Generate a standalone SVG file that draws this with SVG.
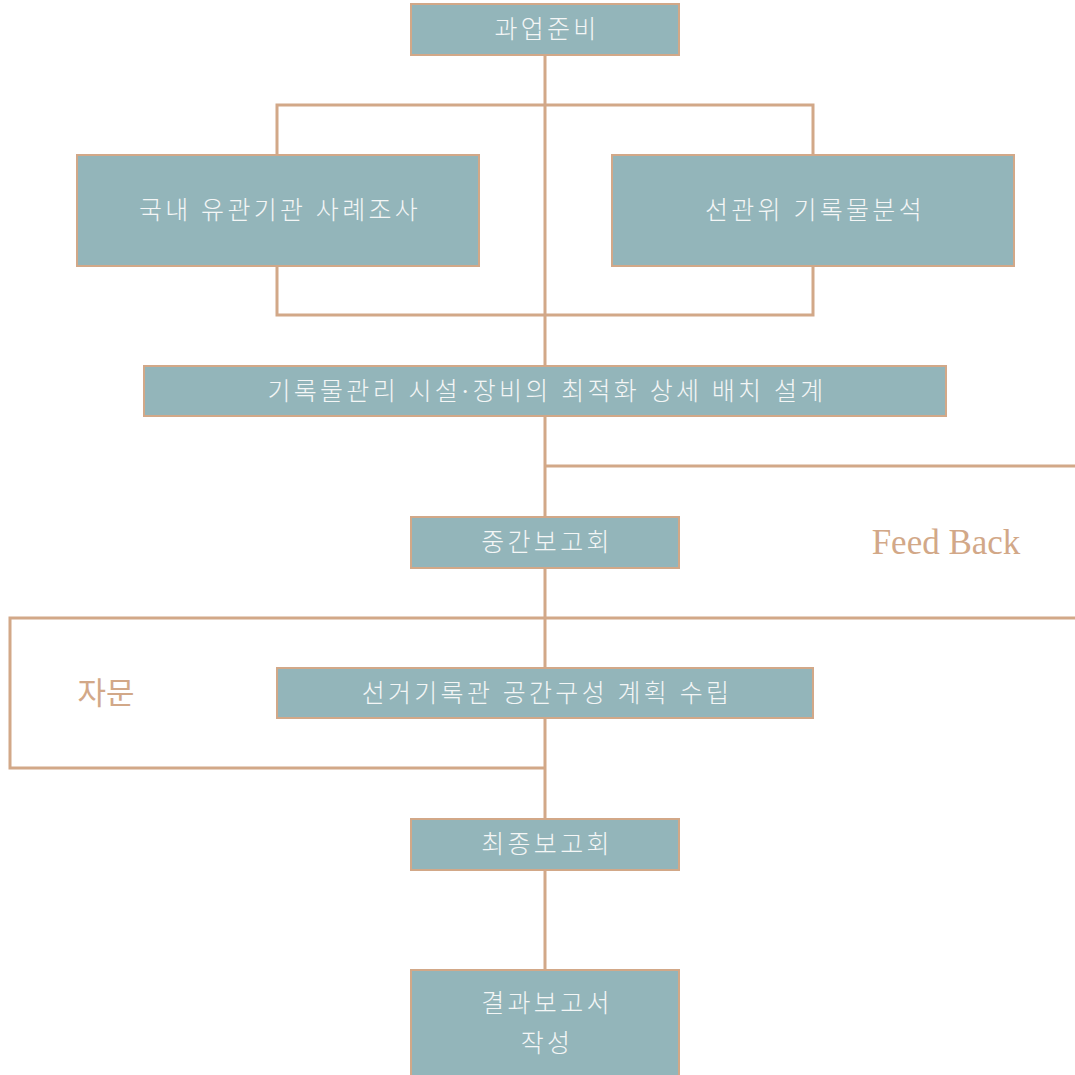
<svg xmlns="http://www.w3.org/2000/svg" width="1075" height="1075" viewBox="0 0 1075 1075">
<style>
.box{fill:#93b5ba;stroke:#d2a888;stroke-width:2}
.t{font-family:"Liberation Serif","Noto Sans CJK KR",serif;font-size:25px;font-weight:300;fill:#f4f6f6;text-anchor:middle;dominant-baseline:central;letter-spacing:3.3px}
.c{fill:none;stroke:#d2a888;stroke-width:3}
.lbl{font-family:"Liberation Serif","Noto Sans CJK KR",serif;font-size:31px;fill:#d2a888;text-anchor:middle;dominant-baseline:central}
</style>
<rect width="1075" height="1075" fill="#ffffff"/>
<g id="connectors">
<line class="c" x1="545" y1="55" x2="545" y2="970"/>
<polyline class="c" points="277,155 277,105 813,105 813,155"/>
<polyline class="c" points="277,266 277,315 813,315 813,266"/>
<line class="c" x1="545" y1="466" x2="1075" y2="466"/>
<polyline class="c" points="1075,618 10,618 10,768 545,768"/>
</g>
<g id="n1"><rect class="box" x="411" y="4" width="268" height="51"/><text class="t" x="547" y="29.5">과업준비</text></g>
<g id="n2"><rect class="box" x="77" y="155" width="402" height="111"/><text class="t" x="280" y="210.5">국내 유관기관 사례조사</text></g>
<g id="n3"><rect class="box" x="612" y="155" width="402" height="111"/><text class="t" x="815" y="210.5">선관위 기록물분석</text></g>
<g id="n4"><rect class="box" x="144" y="366" width="802" height="50"/><text class="t" x="547" y="391">기록물관리 시설·장비의 최적화 상세 배치 설계</text></g>
<g id="n5"><rect class="box" x="411" y="517" width="268" height="51"/><text class="t" x="547" y="542.5">중간보고회</text></g>
<g id="lbl-feedback"><text class="lbl" x="946" y="542" style="font-size:35px">Feed Back</text></g>
<g id="n6"><rect class="box" x="277" y="668" width="536" height="50"/><text class="t" x="547" y="693">선거기록관 공간구성 계획 수립</text></g>
<g id="lbl-jamun"><text class="lbl" x="106" y="693">자문</text></g>
<g id="n7"><rect class="box" x="411" y="819" width="268" height="51"/><text class="t" x="547" y="844.5">최종보고회</text></g>
<g id="n8"><rect class="box" x="411" y="970" width="268" height="110"/><text class="t" x="547" y="1003">결과보고서</text><text class="t" x="547" y="1043">작성</text></g>
</svg>
